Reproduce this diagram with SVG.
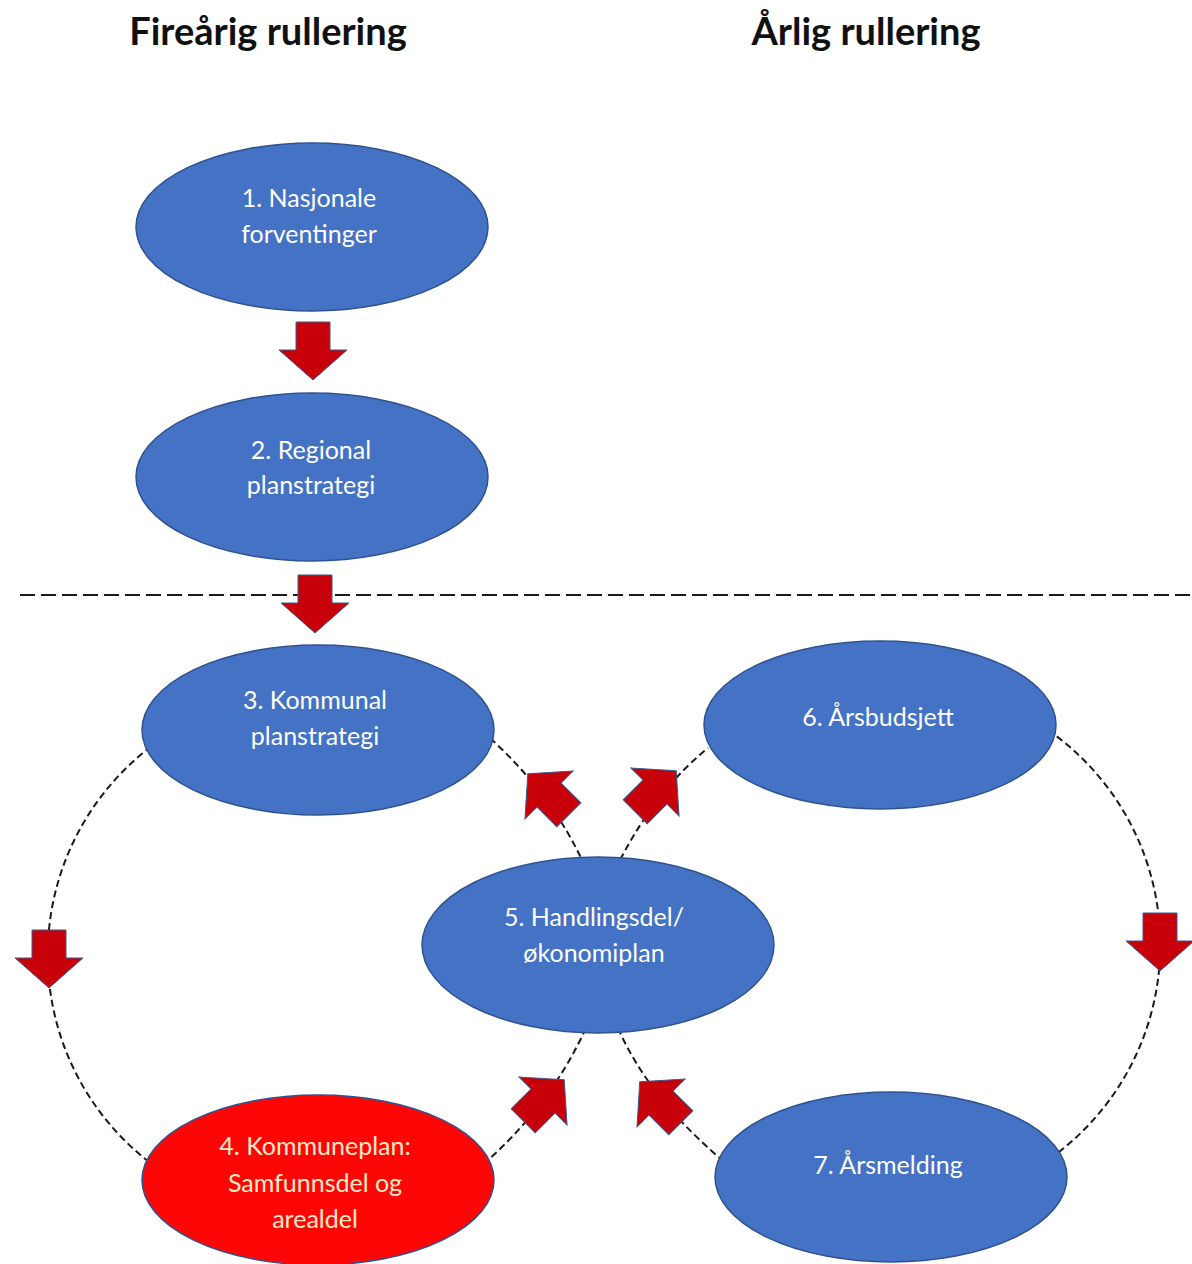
<svg xmlns="http://www.w3.org/2000/svg" width="1192" height="1264" viewBox="0 0 1192 1264">
<defs>
<style>
.title{font-family:Lato,"Liberation Sans",sans-serif;font-weight:bold;font-size:38px;fill:#111;text-anchor:middle}
.lbl{font-family:Lato,"Open Sans",sans-serif;font-size:25px;fill:#ffffff;text-anchor:middle}
.lblr{font-family:Lato,"Open Sans",sans-serif;font-size:25px;fill:#ffebc8;text-anchor:middle}
.blue{fill:#4472c4;stroke:#2f528f;stroke-width:1.5}
.red{fill:#fe0606;stroke:#2f528f;stroke-width:1.5}
.dash{fill:none;stroke:#1a1a1a;stroke-width:2;stroke-dasharray:7 4}
.hline{fill:none;stroke:#1a1a1a;stroke-width:2;stroke-dasharray:15 6}
.arr{fill:#c8000a;stroke:#3b5a8a;stroke-width:1}
</style>
<path id="blk" d="M-17,-28 L17,-28 L17,0 L34,0 L0,30 L-34,0 L-17,0 Z"/>
</defs>
<rect width="1192" height="1264" fill="#ffffff"/>
<text class="title" x="268" y="45">Fireårig rullering</text>
<text class="title" x="866" y="45">Årlig rullering</text>
<g id="connectors">
<line class="hline" x1="20" y1="595" x2="1192" y2="595"/>
<path class="dash" d="M160,740 A262,262 0 0 0 160,1170"/>
<path class="dash" d="M1048,730 A262,262 0 0 1 1048,1160"/>
<path class="dash" d="M490,738 Q551,794 582,860"/>
<path class="dash" d="M620,860 Q657,789 708,748"/>
<path class="dash" d="M586,1028 Q551,1104 488,1160"/>
<path class="dash" d="M618,1028 Q648,1097 722,1160"/>
<use href="#blk" class="arr" transform="translate(313,350)"/>
<use href="#blk" class="arr" transform="translate(315,603)"/>
<use href="#blk" class="arr" transform="translate(49,958)"/>
<use href="#blk" class="arr" transform="translate(1160,941)"/>
<use href="#blk" class="arr" transform="translate(549,795) rotate(135)"/>
<use href="#blk" class="arr" transform="translate(655,792) rotate(225)"/>
<use href="#blk" class="arr" transform="translate(543,1101) rotate(225)"/>
<use href="#blk" class="arr" transform="translate(661,1103) rotate(135)"/>
</g>
<g id="node1">
<ellipse class="blue" cx="312" cy="227" rx="176" ry="84"/>
<text class="lbl" x="309" y="207">1. Nasjonale</text>
<text class="lbl" x="309" y="243">forventinger</text>
</g>
<g id="node2">
<ellipse class="blue" cx="312" cy="477" rx="176" ry="84"/>
<text class="lbl" x="311" y="459">2. Regional</text>
<text class="lbl" x="311" y="494">planstrategi</text>
</g>
<g id="node3">
<ellipse class="blue" cx="318" cy="730" rx="176" ry="85"/>
<text class="lbl" x="315" y="709">3. Kommunal</text>
<text class="lbl" x="315" y="745">planstrategi</text>
</g>
<g id="node6">
<ellipse class="blue" cx="880" cy="725" rx="176" ry="84"/>
<text class="lbl" x="878" y="726">6. Årsbudsjett</text>
</g>
<g id="node5">
<ellipse class="blue" cx="598" cy="945" rx="176" ry="88"/>
<text class="lbl" x="594" y="926">5. Handlingsdel/</text>
<text class="lbl" x="594" y="962">økonomiplan</text>
</g>
<g id="node4">
<ellipse class="red" cx="318" cy="1180" rx="176" ry="85"/>
<text class="lblr" x="315" y="1155">4. Kommuneplan:</text>
<text class="lblr" x="315" y="1192">Samfunnsdel og</text>
<text class="lblr" x="315" y="1228">arealdel</text>
</g>
<g id="node7">
<ellipse class="blue" cx="891" cy="1177" rx="176" ry="85"/>
<text class="lbl" x="888" y="1174">7. Årsmelding</text>
</g>
</svg>
